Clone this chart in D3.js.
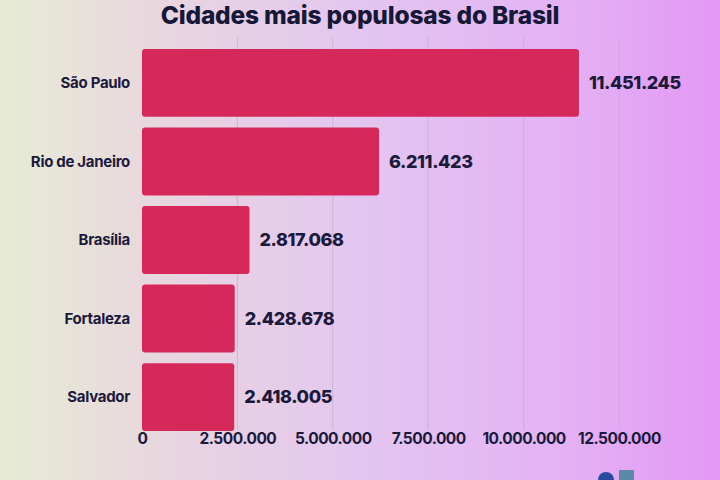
<!DOCTYPE html>
<html><head><meta charset="utf-8">
<script src="https://cdn.jsdelivr.net/npm/d3@7"></script>
<style>
html,body{margin:0;padding:0;overflow:hidden;}
svg{display:block;font-family:Inter,"Noto Sans",sans-serif;}
</style></head>
<body>
<script>
const cities = ["São Paulo","Rio de Janeiro","Brasília","Fortaleza","Salvador"];
const population = [11451245, 6211423, 2817068, 2428678, 2418005];
const tickValues = [0, 2500000, 5000000, 7500000, 10000000, 12500000];
const title = "Cidades mais populosas do Brasil";

const W = 720, H = 480;
const svg = d3.select("body").append("svg").attr("width", W).attr("height", H);
const defs = svg.append("defs");
const grad = defs.append("linearGradient").attr("id","bg").attr("x1","0").attr("x2","1").attr("y1","0").attr("y2","0");
grad.append("stop").attr("offset","0").attr("stop-color","#e6ecd4");
grad.append("stop").attr("offset","0.25").attr("stop-color","#e8d4e0");
grad.append("stop").attr("offset","0.5").attr("stop-color","#e3c6f0");
grad.append("stop").attr("offset","0.78").attr("stop-color","#e3b2f4");
grad.append("stop").attr("offset","1").attr("stop-color","#e498f4");
svg.append("rect").attr("width",W).attr("height",H).attr("fill","url(#bg)");

const x = d3.scaleLinear().domain([0, 12500000]).range([142, 619]);
const y = d3.scaleBand().domain(cities).range([45, 435]).paddingInner(0.135).paddingOuter(0.05);

const fmt = v => d3.format(",")(v).replace(/,/g, ".");

// gridlines
svg.append("g").selectAll("line").data(tickValues.slice(1)).join("line")
  .attr("x1", d => x(d)).attr("x2", d => x(d))
  .attr("y1", 38).attr("y2", 430)
  .attr("stroke", "#c9a9d6").attr("stroke-width", 1).attr("opacity", 0.7);

// axis
const axis = svg.append("g").attr("transform", "translate(0,429)")
  .call(d3.axisBottom(x).tickValues(tickValues).tickFormat(fmt).tickSize(0).tickPadding(4));
axis.select(".domain").remove();
axis.selectAll("text").attr("font-family","Inter,sans-serif").attr("font-size",15.5)
  .attr("font-weight",700).attr("fill","#1c1a3c").attr("letter-spacing","-0.5");

// bars
svg.append("g").selectAll("rect").data(cities).join("rect")
  .attr("x", x(0)).attr("y", d => y(d))
  .attr("width", (d,i) => x(population[i]) - x(0))
  .attr("height", y.bandwidth())
  .attr("rx", 3).attr("fill", "#d6285a");

// category labels
svg.append("g").selectAll("text").data(cities).join("text")
  .attr("x", 130).attr("y", d => y(d) + y.bandwidth()/2)
  .attr("dy","0.35em").attr("text-anchor","end")
  .attr("font-size",15).attr("font-weight",700).attr("fill","#1c1a3c")
  .attr("letter-spacing","-0.3")
  .text(d => d);

// value labels
svg.append("g").selectAll("text").data(cities).join("text")
  .attr("x", (d,i) => x(population[i]) + 10)
  .attr("y", d => y(d) + y.bandwidth()/2)
  .attr("dy","0.35em")
  .attr("font-size",18).attr("font-weight",800).attr("fill","#1c1a3c")
  .attr("letter-spacing","-0.4")
  .text((d,i) => fmt(population[i]));

// title
svg.append("text").attr("x", 360).attr("y", 24).attr("text-anchor","middle")
  .attr("font-size",24.5).attr("font-weight",800).attr("fill","#161838")
  .attr("letter-spacing","-0.2")
  .text(title);

// small logos bottom right
svg.append("circle").attr("cx",606).attr("cy",480).attr("r",8).attr("fill","#2a4aa0");
svg.append("rect").attr("x",619).attr("y",470).attr("width",15).attr("height",10).attr("fill","#5a8aa8");
</script>
</body></html>
